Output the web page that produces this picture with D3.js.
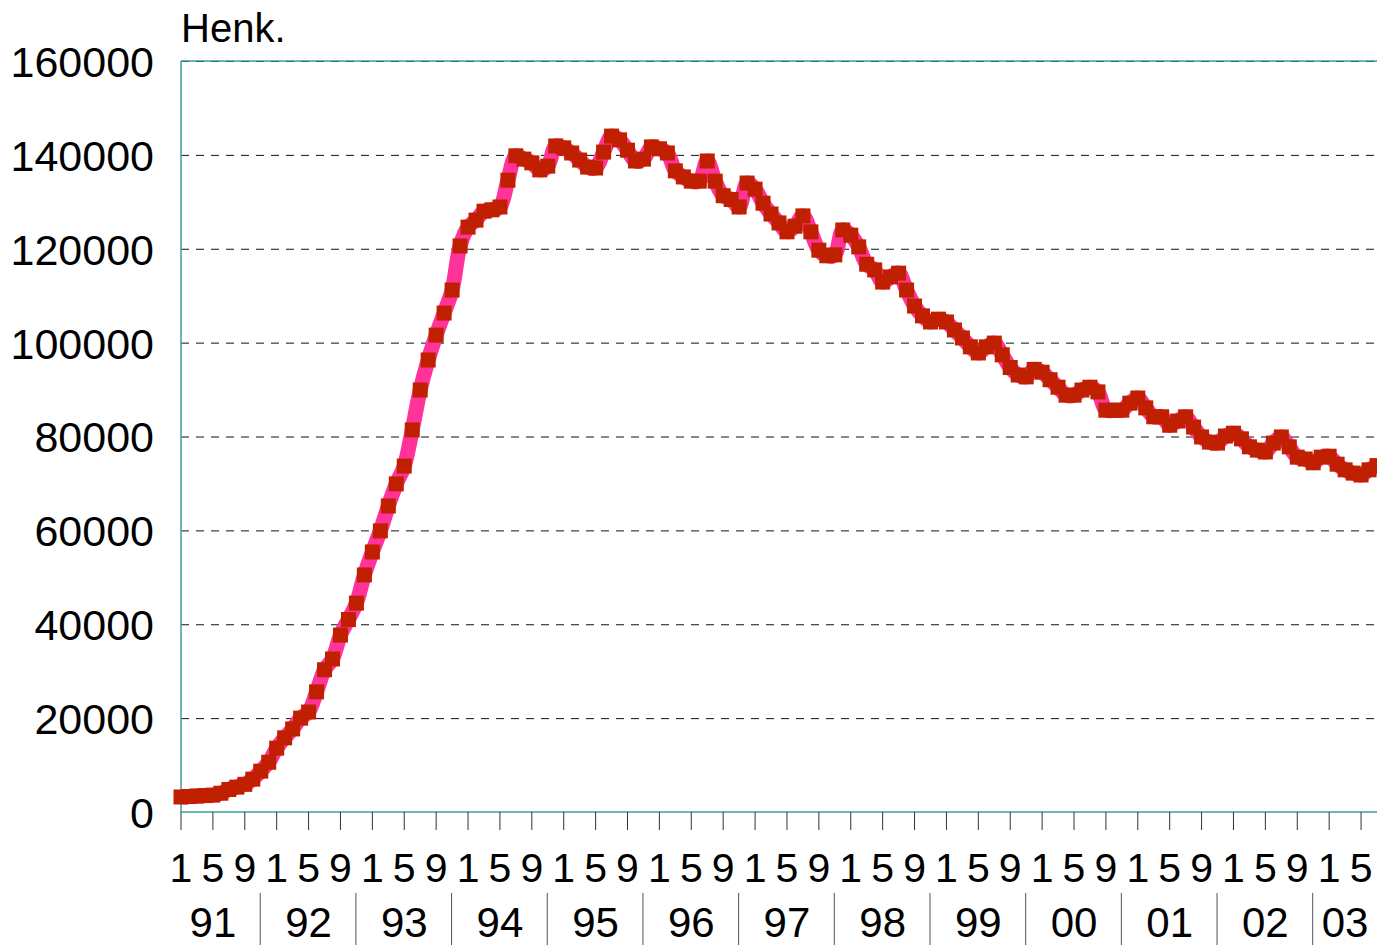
<!DOCTYPE html>
<html>
<head>
<meta charset="utf-8">
<script src="https://cdn.jsdelivr.net/npm/d3@7"></script>
<style>
  body { margin: 0; background: #fff; }
  text { font-family: "Liberation Sans", Arial, Helvetica, sans-serif; fill: #000; }
</style>
</head>
<body>
<svg width="1377" height="945"></svg>
<script>
// monthly values (persons), Jan 1991 - Jul 2003
var v1991 = [3200, 3300, 3400, 3500, 3600, 4000, 4800, 5300, 5900, 7000, 8700, 10600];
var v1992 = [13600, 15800, 17700, 20000, 21300, 25600, 30300, 32600, 37700, 41000, 44500, 50500];
var v1993 = [55400, 59900, 65200, 69900, 73700, 81400, 89900, 96300, 101600, 106300, 111200, 120600];
var v1994 = [124600, 126100, 128000, 128300, 128900, 134600, 139800, 139100, 138300, 136800, 137600, 141900];
var v1995 = [141500, 140400, 138900, 137400, 137200, 140600, 144000, 143200, 141000, 138700, 139100, 141700];
var v1996 = [141300, 140400, 136600, 135300, 134400, 134400, 138700, 134400, 131300, 130500, 128900, 134000];
var v1997 = [132700, 129700, 127400, 125500, 123600, 124800, 127000, 123600, 119700, 118500, 118700, 124000];
var v1998 = [122900, 120400, 116700, 115500, 112900, 114000, 114800, 111200, 107800, 105700, 104400, 105000];
var v1999 = [104400, 102700, 101000, 99100, 97800, 99100, 99900, 97400, 94700, 93100, 92700, 94300];
var v2000 = [93700, 92100, 90500, 88800, 88800, 89900, 90500, 89500, 85600, 85600, 85600, 87100];
var v2001 = [88200, 86100, 84200, 84200, 82400, 83300, 84200, 82000, 79900, 78800, 78600, 80100];
var v2002 = [80700, 79500, 77800, 77100, 76700, 78600, 79900, 77800, 75600, 75200, 74400, 75600];
var v2003 = [75800, 74100, 72900, 72200, 71800, 72900, 73800];

var yearLabels = ["91", "92", "93", "94", "95", "96", "97", "98", "99", "00", "01", "02", "03"];
var monthLabels = ["1", "5", "9"];
var yTicks = [0, 20000, 40000, 60000, 80000, 100000, 120000, 140000, 160000];
var yTitle = "Henk.";

var values = [].concat(v1991, v1992, v1993, v1994, v1995, v1996, v1997,
                       v1998, v1999, v2000, v2001, v2002, v2003);

var svg = d3.select("svg"),
    width = +svg.attr("width"),
    height = +svg.attr("height");

var plotLeft = 181, plotTop = 61, plotBottom = 812;
var teal = "#3a9f9b";

var x = d3.scaleLinear().domain([0, values.length - 1]).range([plotLeft, width]);
var y = d3.scaleLinear().domain([0, 160000]).range([plotBottom, plotTop]);

var gridVals = yTicks.filter(function(d) { return d > 0; });

//top border (teal) under the dashed grid
svg.append("line")
  .attr("x1", plotLeft).attr("x2", width)
  .attr("y1", y(160000)).attr("y2", y(160000))
  .attr("stroke", teal).attr("stroke-width", 1.5);

//grid lines
svg.append("g")
  .selectAll("line")
  .data(gridVals)
  .enter().append("line")
    .attr("x1", plotLeft).attr("x2", width)
    .attr("y1", function(d) { return y(d) + 0.5; })
    .attr("y2", function(d) { return y(d) + 0.5; })
    .attr("stroke", function(d) { return d === 160000 ? "#2f6f6c" : "#111"; })
    .attr("stroke-width", 1)
    .attr("stroke-dasharray", "8,7");

//axes lines
svg.append("line")
  .attr("x1", plotLeft).attr("x2", plotLeft).attr("y1", plotTop).attr("y2", plotBottom)
  .attr("stroke", teal).attr("stroke-width", 1.5);
svg.append("line")
  .attr("x1", plotLeft).attr("x2", width).attr("y1", plotBottom).attr("y2", plotBottom)
  .attr("stroke", teal).attr("stroke-width", 1.5);

//y labels
svg.append("g")
  .selectAll("text")
  .data(yTicks)
  .enter().append("text")
    .attr("x", 154)
    .attr("y", function(d) { return y(d); })
    .attr("dy", "0.37em")
    .attr("text-anchor", "end")
    .style("font-size", "43px")
    .text(function(d) { return d; });

svg.append("text")
  .attr("x", 181).attr("y", 42)
  .style("font-size", "40px")
  .text(yTitle);

//month ticks every 4 months
var tickIdx = d3.range(0, values.length, 4);
svg.append("g")
  .selectAll("line")
  .data(tickIdx)
  .enter().append("line")
    .attr("x1", function(d) { return x(d); })
    .attr("x2", function(d) { return x(d); })
    .attr("y1", plotBottom).attr("y2", plotBottom + 18)
    .attr("stroke", "#333").attr("stroke-width", 1);

svg.append("g")
  .selectAll("text")
  .data(tickIdx)
  .enter().append("text")
    .attr("x", function(d) { return x(d); })
    .attr("y", 882)
    .attr("text-anchor", "middle")
    .style("font-size", "41px")
    .text(function(d) { return monthLabels[(d % 12) / 4]; });

//year separators and labels
var sep = yearLabels.slice(1).map(function(_, i) { return 10 + 12 * i; });
svg.append("g")
  .selectAll("line")
  .data(sep)
  .enter().append("line")
    .attr("x1", function(d) { return x(d) - 0.5; })
    .attr("x2", function(d) { return x(d) - 0.5; })
    .attr("y1", 893).attr("y2", height)
    .attr("stroke", "#555").attr("stroke-width", 1);

svg.append("g")
  .selectAll("text")
  .data(yearLabels)
  .enter().append("text")
    .attr("x", function(d, i) {
      var a = i === 0 ? -2 : sep[i - 1];
      var b = i < sep.length ? sep[i] : values.length - 1;
      return x((a + b) / 2);
    })
    .attr("y", 937)
    .attr("text-anchor", "middle")
    .style("font-size", "42px")
    .text(function(d) { return d; });

//the line
var line = d3.line()
  .x(function(d, i) { return x(i); })
  .y(function(d) { return y(d); })
  .curve(d3.curveCatmullRom);

svg.append("path")
  .datum(values)
  .attr("d", line)
  .attr("fill", "none")
  .attr("stroke", "#ff3399")
  .attr("stroke-width", 15)
  .attr("stroke-linejoin", "round");

//square markers
var ms = 15;
svg.append("g")
  .selectAll("rect")
  .data(values)
  .enter().append("rect")
    .attr("x", function(d, i) { return x(i) - ms / 2; })
    .attr("y", function(d) { return y(d) - ms / 2; })
    .attr("width", ms).attr("height", ms)
    .attr("fill", "#c01f00");
</script>
</body>
</html>
